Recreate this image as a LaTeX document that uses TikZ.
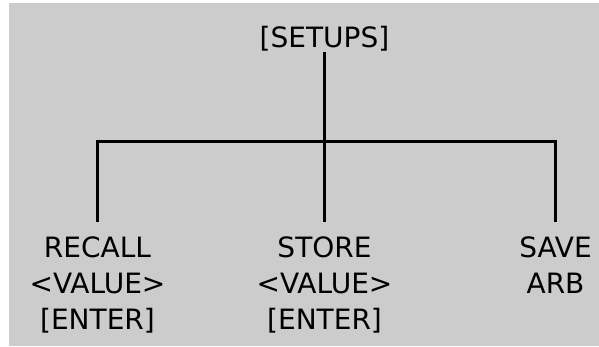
\documentclass[tikz,border=0pt]{standalone}
\usepackage{fontspec}
\setmainfont{DejaVu Sans}
\usetikzlibrary{positioning}
\definecolor{panelgray}{HTML}{CCCCCC}

\begin{document}
\begin{tikzpicture}[
	x=1pt,y=-1pt,
	menuitem/.style={
		inner sep=0pt,
		align=center,
		font=\fontsize{28}{36}\selectfont},
	tree/.style={line width=3pt,line join=miter}
	]
	\useasboundingbox (0,0) rectangle (599,347);
	\fill[panelgray] (9,3) rectangle (599,346);

	\node[menuitem,anchor=base] (setups) at (324.5,48) {[SETUPS]};
	\node[menuitem,anchor=north] (recall) at (97.5,237) {RECALL\\<VALUE>\\{[ENTER]}};
	\node[menuitem,anchor=north] (store) at (324.5,237) {STORE\\<VALUE>\\{[ENTER]}};
	\node[menuitem,anchor=north] (save) at (555.5,237) {SAVE\\ARB};
	\coordinate (bar) at (324.5,142);

	% branches
	\draw[tree,shorten <=15pt,shorten >=15pt] (recall.north) |- (bar) -| (save.north);
	\draw[tree,shorten >=15pt] (setups.south) -- (store.north);
\end{tikzpicture}
\end{document}
